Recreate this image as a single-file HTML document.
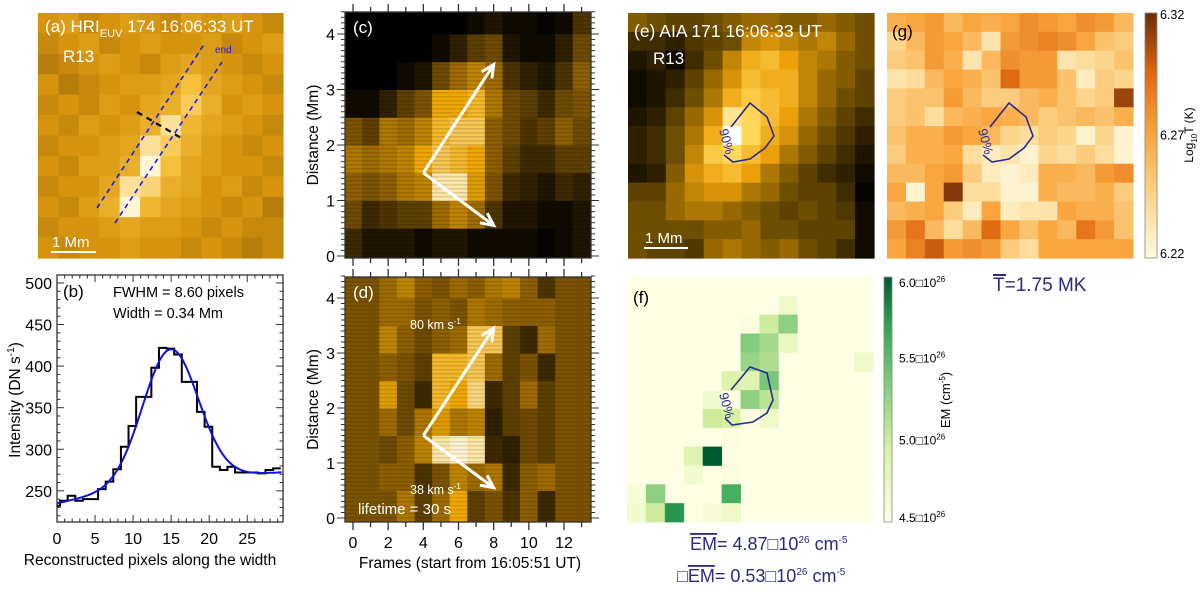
<!DOCTYPE html>
<html><head><meta charset="utf-8"><style>
body{margin:0;background:#fff}
svg{display:block;font-family:"Liberation Sans",sans-serif}
</style></head><body>
<svg id="fig" width="1200" height="591" viewBox="0 0 1200 591" xmlns="http://www.w3.org/2000/svg">
<g id="layer"></g>
</svg>
<script>
// ---------- data ----------
// (b) profile
const bPixels=[0,1,2,3,4,5,6,7,8,9,10,11,12,13,14,15,16,17,18,19,20,21,22,23,24,25,26,27,28,29];
const bIntensity=[232,238,244,238,240,240,252,261,276,303,328,363,363,398,422,421,414,381,381,345,327,279,275,279,272,272,272,271,275,277];
const bFitParams=[161,14.9,3.65]; // amplitude, centre, sigma
const bFitBaseline=[235,2.0,-0.025];
const bYTicks=[250,300,350,400,450,500];
const bXTicks=[0,5,10,15,20,25];
// (a) HRI image (12x12)
const aImg=[
[.45,.5,.4,.45,.5,.45,.4,.5,.45,.5,.45,.4],
[.4,.45,.5,.4,.45,.5,.45,.45,.5,.4,.45,.5],
[.35,.4,.45,.5,.45,.4,.5,.55,.5,.45,.4,.45],
[.45,.35,.4,.45,.5,.5,.55,.7,.55,.5,.45,.4],
[.4,.45,.4,.5,.45,.55,.6,.75,.6,.45,.5,.45],
[.45,.4,.5,.45,.5,.6,.85,.65,.55,.5,.45,.4],
[.4,.45,.45,.5,.55,.85,.75,.6,.5,.45,.4,.45],
[.45,.4,.5,.5,.6,.95,.7,.55,.5,.45,.45,.4],
[.4,.45,.45,.55,.85,.8,.6,.55,.45,.5,.4,.45],
[.45,.4,.5,.6,.95,.65,.55,.5,.45,.4,.45,.35],
[.4,.45,.45,.5,.55,.5,.5,.45,.4,.45,.4,.4],
[.45,.4,.45,.45,.5,.45,.45,.4,.45,.4,.35,.4]];
// (c) time-distance: per frame, distance bins 0..4.4 in 0.5 Mm
const cFrames=[0,1,2,3,4,5,6,7,8,9,10,11,12,13];
const cTD=[
[.2,.35,.45,.55,.4,.05,0,0,0],[.1,.2,.4,.5,.3,.05,0,0,0],[.1,.25,.45,.55,.55,.15,0,0,0],
[.1,.3,.55,.6,.5,.3,.05,0,0],[.05,.3,.6,.75,.6,.4,.1,0,0],[.1,.5,.95,.85,.8,.75,.35,.05,0],
[.1,.6,.95,.8,.85,.75,.5,.15,0],[.05,.5,.7,.75,.85,.8,.6,.3,.05],[.05,.25,.4,.45,.45,.55,.5,.35,.1],
[.05,.1,.2,.3,.35,.35,.25,.1,.05],[.05,.1,.15,.2,.25,.3,.15,.05,.05],[.02,.05,.1,.2,.3,.2,.1,.05,.02],
[.05,.05,.2,.3,.45,.35,.25,.15,.05],[.1,.1,.15,.3,.35,.4,.45,.35,.25]];
const dTD=[
[.4,.4,.4,.4,.4,.4,.4,.4,.4],[.4,.4,.4,.4,.4,.4,.4,.4,.4],
[.4,.45,.35,.5,.7,.45,.6,.5,.5],[.55,.45,.45,.35,.35,.4,.45,.5,.6],[.3,.25,.6,.55,.2,.3,.35,.4,.45],
[.5,.4,.95,.7,.8,.8,.45,.45,.4],[.75,.6,1,.55,.75,.8,.5,.4,.5],[.3,.5,.95,.6,.9,.85,.85,.55,.45],
[.4,.55,.2,.15,.2,.5,.85,.5,.55],[.25,.2,.15,.3,.3,.3,.3,.45,.6],[.45,.45,.35,.35,.5,.4,.2,.45,.45],
[.2,.5,.3,.3,.3,.2,.5,.45,.25],[.4,.4,.4,.4,.4,.4,.4,.4,.4],[.4,.4,.4,.4,.4,.4,.4,.4,.4]];
const tdYTicks=[0,1,2,3,4];
const tdXTicks=[0,2,4,6,8,10,12];
const arrowStart=[4,1.5];
const arrowEnds=[[8,3.45],[8,0.55]];
// (e) AIA 171
const eImg=[
[.4,.35,.3,.3,.35,.4,.45,.45,.4,.4,.45,.4,.35],[.2,.2,.15,.25,.3,.35,.55,.6,.55,.5,.55,.45,.35],
[.1,.15,.05,.2,.35,.55,.7,.75,.65,.55,.5,.4,.35],[.05,.1,.15,.3,.45,.6,.75,.7,.7,.55,.45,.4,.3],
[.05,.1,.2,.35,.5,.7,.8,.75,.7,.55,.45,.35,.3],[.1,.15,.3,.45,.6,.9,.85,.75,.65,.5,.4,.3,.2],
[.15,.2,.35,.5,.7,1,.85,.7,.6,.45,.35,.25,.15],[.15,.2,.35,.55,.8,.85,.75,.65,.5,.4,.3,.2,.1],
[.1,.15,.4,.6,.7,.75,.65,.5,.4,.3,.2,.15,.05],[.3,.3,.45,.55,.6,.6,.5,.45,.35,.3,.3,.2,.02],
[.35,.35,.45,.5,.5,.45,.4,.35,.3,.35,.3,.25,.05],[.35,.35,.35,.35,.4,.4,.45,.35,.35,.3,.3,.3,.05],
[.35,.3,.3,.25,.45,.5,.45,.4,.45,.35,.3,.2,.05]];
// (g) log T (normalized 6.22..6.32)
const gImg=[
[.45,.5,.55,.4,.5,.45,.5,.6,.55,.5,.6,.55,.4],[.25,.4,.55,.5,.4,.15,.55,.6,.65,.6,.5,.35,.3],
[.3,.35,.55,.45,.15,.4,.6,.55,.55,.15,.2,.25,.35],[.15,.2,.4,.5,.45,.35,.75,.55,.55,.35,.1,.3,.25],
[.3,.35,.35,.55,.4,.3,.3,.4,.45,.35,.25,.3,.9],[.3,.35,.2,.4,.45,.5,.45,.4,.3,.35,.4,.35,.45],
[.35,.45,.45,.55,.5,.4,.25,.2,.3,.25,.05,.25,.05],[.3,.45,.45,.5,.2,.1,.15,.05,.25,.2,.3,.2,.05],
[.4,.4,.5,.55,.3,.1,.05,.1,.45,.45,.4,.55,.6],[.5,.05,.5,.95,.2,.2,.05,.05,.45,.4,.4,.45,.3],
[.4,.45,.5,.3,.1,.5,.1,.15,.15,.5,.45,.45,.35],[.55,.7,.4,.2,.4,.75,.5,.35,.5,.4,.7,.55,.35],
[.5,.65,.8,.55,.6,.55,.3,.2,.5,.5,.5,.5,.5]];
// (f) EM in 1e26 (background 4.5)
const fCells=[[1,8,4.7],[2,6,4.55],[2,7,5.0],[2,8,5.3],[3,6,5.35],[3,7,5.2],[3,8,4.75],[4,6,5.25],[4,7,5.15],[4,12,4.7],
[5,5,4.9],[5,6,4.85],[5,7,5.4],[6,4,4.65],[6,6,5.3],[6,7,5.1],[7,4,5.0],[7,5,4.95],[7,6,4.55],[7,7,4.7],[8,5,4.55],
[9,3,4.85],[9,4,6.0],[10,3,4.65],[10,5,4.55],[11,0,4.6],[11,1,5.3],[11,5,5.6],[12,0,4.65],[12,1,5.0],[12,2,5.75],[12,4,4.6],[12,5,4.7]];
const fTicks=[4.5,5.0,5.5,6.0];
const gTicks=["6.22","6.27","6.32"];

// ---------- helpers ----------
const NS="http://www.w3.org/2000/svg";
const L=document.getElementById('layer');
function mk(tag,attrs,parent){const e=document.createElementNS(NS,tag);for(const k in attrs)e.setAttribute(k,attrs[k]);(parent||L).appendChild(e);return e;}
function cmap(stops,v){v=Math.max(0,Math.min(1,v));for(let i=1;i<stops.length;i++){if(v<=stops[i][0]){const a=stops[i-1],b=stops[i];const t=(v-a[0])/(b[0]-a[0]||1);const c=[0,1,2].map(j=>Math.round(a[1][j]+(b[1][j]-a[1][j])*t));return`rgb(${c})`;}}const l=stops[stops.length-1][1];return`rgb(${l})`;}
const hriStops=[[0,[70,45,0]],[.45,[214,148,14]],[.7,[246,192,60]],[1,[255,255,245]]];
const aiaStops=[[0,[0,0,0]],[.35,[110,78,0]],[.65,[235,160,10]],[.85,[255,215,90]],[1,[255,255,255]]];
const tdStops=[[0,[0,0,0]],[.45,[140,95,0]],[.75,[240,168,0]],[1,[255,245,210]]];
const tStops=[[0,[255,250,225]],[.25,[252,214,140]],[.5,[249,166,64]],[.75,[224,106,18]],[1,[107,44,7]]];
const emStops=[[0,[255,255,229]],[.3,[217,240,163]],[.6,[120,198,121]],[.8,[49,163,84]],[1,[0,90,50]]];
function imageGrid(data,x0,y0,w,h,stops,name){const g=mk('g',{});
 const R=data.length,C=data[0].length,cw=w/C,ch=h/R;
 data.forEach((row,r)=>row.forEach((v,c)=>{const e=mk('rect',{x:x0+c*cw,y:y0+r*ch,width:cw+0.6,height:ch+0.6,fill:cmap(stops,v)},g);}));return g;}
function txt(x,y,s,attrs,name){const e=mk('text',Object.assign({x:x,y:y},attrs||{}));e.innerHTML=s;return e;}
function contour(pts,label,name){const p=mk('polyline',{points:pts.map(q=>q.join(',')).join(' '),fill:'none',stroke:'#2a2a90','stroke-width':1.6});
 const t=txt(label[0],label[1],'90%',{fill:'#2a2a90','font-size':13,transform:`rotate(75 ${label[0]} ${label[1]})`},name+'-label');}
function box(x,y,w,h,name){const e=mk('rect',{x:x,y:y,width:w,height:h,fill:'none',stroke:'#333','stroke-width':1.3});}

// ---------- (a) ----------
imageGrid(aImg,38,13,245,245,hriStops,'panel-a-image');
[[[97,208],[205,43]],[[115,223],[222,62]]].forEach((l,i)=>{const e=mk('line',{x1:l[0][0],y1:l[0][1],x2:l[1][0],y2:l[1][1],stroke:'#1a1aff','stroke-width':1.6,'stroke-dasharray':'5,4'});});
{const e=mk('line',{x1:137,y1:112,x2:183,y2:139,stroke:'#000','stroke-width':2.2,'stroke-dasharray':'6,5'});}
txt(45,32,'(a) HRI<tspan font-size="11" dy="5">EUV</tspan><tspan dy="-5"> 174  16:06:33 UT</tspan>',{fill:'#fff','font-size':17},'panel-a-title');
txt(63,62,'R13',{fill:'#fff','font-size':17},'panel-a-region');
txt(215,53,'end',{fill:'#1a1aff','font-size':10},'slit-end-label');
{const e=mk('line',{x1:51,y1:252,x2:96,y2:252,stroke:'#fff','stroke-width':2});}
txt(52,247,'1 Mm',{fill:'#fff','font-size':15},'scale-bar-label');

// ---------- (b) ----------
const bx0=57,bx1=283,by0=275,by1=522,bxmin=0,bxmax=29.7,bymin=212.5,bymax=509.6;
const bX=v=>bx0+(v-bxmin)/(bxmax-bxmin)*(bx1-bx0), bY=v=>by1-(v-bymin)/(bymax-bymin)*(by1-by0);
box(bx0,by0,bx1-bx0,by1-by0,'panel-b-frame');
for(let v=220;v<=500;v+=10){const M=v%50===0,l=M?7:3.5;[[bx0,bx0+l],[bx1,bx1-l]].forEach(s=>{const e=mk('line',{x1:s[0],x2:s[1],y1:bY(v),y2:bY(v),stroke:'#333'});});}
for(let v=0;v<=29;v++){const M=v%5===0,l=M?7:3.5;[[by1,by1-l],[by0,by0+l]].forEach(s=>{const e=mk('line',{x1:bX(v),x2:bX(v),y1:s[0],y2:s[1],stroke:'#333'});});}
bYTicks.forEach(v=>txt(bx0-5,bY(v)+6,v,{'font-size':16,'text-anchor':'end'},'b-y-tick-label'));
bXTicks.forEach(v=>txt(bX(v),544,v,{'font-size':16,'text-anchor':'middle'},'b-x-tick-label'));
txt(150,565,'Reconstructed pixels along the width',{'font-size':15.5,'text-anchor':'middle'},'b-x-axis-title');
txt(0,0,'Intensity (DN s<tspan font-size="10" dy="-6">-1</tspan><tspan dy="6">)</tspan>',{'font-size':15.5,'text-anchor':'middle',transform:'translate(20,400) rotate(-90)'},'b-y-axis-title');
{let d='';bPixels.forEach((p,i)=>{const xa=bX(Math.max(0,p-0.6)),xb=bX(Math.min(bxmax,p+0.4)),y=bY(bIntensity[i]);d+=(i?'L':'M')+xa+','+y+'L'+xb+','+y;});
 const e=mk('path',{d:d,fill:'none',stroke:'#000','stroke-width':2});}
{let d='';for(let x=0;x<=bxmax;x+=0.25){const base=bFitBaseline[0]+bFitBaseline[1]*x+bFitBaseline[2]*x*x;const v=base+bFitParams[0]*Math.exp(-Math.pow(x-bFitParams[1],2)/(2*bFitParams[2]*bFitParams[2]));d+=(x?'L':'M')+bX(x).toFixed(1)+','+bY(v).toFixed(1);}
 const e=mk('path',{d:d,fill:'none',stroke:'#1010e0','stroke-width':2});}
txt(63,297,'(b)',{'font-size':17},'panel-b-label');
txt(113,297,'FWHM =  8.60 pixels',{'font-size':14.5},'fwhm-text');
txt(113,318,'Width = 0.34 Mm',{'font-size':14.5},'width-text');

// ---------- (c),(d) ----------
function tdPanel(data,top,bottom,zeroY,pxPerMm,name,arrows){
 const x0=345,x1=591,fX=f=>353+(f)*(564-353)/12,dY=d=>zeroY-d*pxPerMm;
 const g=mk('g',{});
 const clip=mk('clipPath',{id:'clip-'+name});mk('rect',{x:x0,y:top,width:x1-x0,height:bottom-top},clip);g.setAttribute('clip-path','url(#clip-'+name+')');
 data.forEach((col,fi)=>{const f=cFrames[fi];col.forEach((v,bi)=>{const ya=dY(bi*0.5+0.5),yb=dY(bi*0.5);const e=mk('rect',{x:fX(f-0.5),y:(bi===col.length-1?top:ya),width:fX(f+0.5)-fX(f-0.5)+0.5,height:yb-(bi===col.length-1?top:ya)+(bi===0?(bottom-yb):0.5),fill:cmap(tdStops,v)},g);});});
 for(let y=top;y<bottom;y+=4){const e=mk('rect',{x:x0,y:y,width:x1-x0,height:1.5,fill:'#000',opacity:0.12},g);}
 box(x0,top,x1-x0,bottom-top,name+'-frame');
 for(let d=0;d<=4.4;d+=0.1){const M=Math.abs(d-Math.round(d))<0.01,l=M?8:4;[[x0,x0-l],[x1,x1+l]].forEach(s=>{const e=mk('line',{x1:s[0],x2:s[1],y1:dY(d),y2:dY(d),stroke:'#333'});});}
 for(let f=0;f<=13;f++){const l=f%2===0?8:5;[[bottom,bottom+l],[top,top-l]].forEach(s=>{const e=mk('line',{x1:fX(f),x2:fX(f),y1:s[0],y2:s[1],stroke:'#333','stroke-width':1.3});});}
 tdYTicks.forEach(v=>txt(x0-10,dY(v)+6,v,{'font-size':16,'text-anchor':'end'},'td-y-tick-label'));
 txt(0,0,'Distance (Mm)',{'font-size':15.5,'text-anchor':'middle',transform:`translate(318,${(top+bottom)/2}) rotate(-90)`},'td-y-axis-title');
 arrowEnds.forEach((en,i)=>{const xa=fX(arrowStart[0]),ya=dY(arrowStart[1]),xb=fX(en[0]),yb=dY(en[1]);const e=mk('line',{x1:xa,y1:ya,x2:xb,y2:yb,stroke:'#fff','stroke-width':3});
  const ang=Math.atan2(yb-ya,xb-xa),h=14;const p=mk('polyline',{points:`${xb-h*Math.cos(ang-0.45)},${yb-h*Math.sin(ang-0.45)} ${xb},${yb} ${xb-h*Math.cos(ang+0.45)},${yb-h*Math.sin(ang+0.45)}`,fill:'none',stroke:'#fff','stroke-width':3});});
 return fX;}
tdPanel(cTD,12,258,256,55.5,'panel-c',true);
txt(353,33,'(c)',{fill:'#fff','font-size':17},'panel-c-label');
const fXd=tdPanel(dTD,277,522,518,55,'panel-d',true);
txt(353,298,'(d)',{fill:'#fff','font-size':17},'panel-d-label');
tdXTicks.forEach(v=>txt(fXd(v),548,v,{'font-size':16,'text-anchor':'middle'},'td-x-tick-label'));
txt(470,568,'Frames (start from 16:05:51 UT)',{'font-size':15.5,'text-anchor':'middle'},'td-x-axis-title');
txt(410,329,'80 km s<tspan font-size="8" dy="-5">-1</tspan>',{fill:'#fff','font-size':12.5},'speed-80-label');
txt(410,494,'38 km s<tspan font-size="8" dy="-5">-1</tspan>',{fill:'#fff','font-size':12.5},'speed-38-label');
txt(358,514,'lifetime =  30 s',{fill:'#fff','font-size':15},'lifetime-label');

// ---------- (e) ----------
imageGrid(eImg,628,13,246,245,aiaStops,'panel-e-image');
txt(634,37,'(e) AIA 171  16:06:33 UT',{fill:'#fff','font-size':17.5},'panel-e-title');
txt(653,64,'R13',{fill:'#fff','font-size':17},'panel-e-region');
{const e=mk('line',{x1:644,y1:248,x2:688,y2:248,stroke:'#fff','stroke-width':2});}
txt(645,243,'1 Mm',{fill:'#fff','font-size':15},'e-scale-bar-label');
const cont=[[731,127],[750,103],[767,117],[774,136],[765,148],[750,159],[733,162],[724,155]];
contour(cont,[719,130],'e-contour');

// ---------- (g) ----------
imageGrid(gImg,887,13,246,245,tStops,'panel-g-image');
txt(892,37,'(g)',{'font-size':17},'panel-g-label');
contour(cont.map(p=>[p[0]+259,p[1]]),[978,130],'g-contour');
{const defs=mk('defs',{});const lg=mk('linearGradient',{id:'gT',x1:0,y1:1,x2:0,y2:0},defs);tStops.forEach(s=>mk('stop',{offset:s[0],'stop-color':`rgb(${s[1]})`},lg));
 const e=mk('rect',{x:1145,y:13,width:12,height:245,fill:'url(#gT)',stroke:'#888','stroke-width':.8});
 const lgE=mk('linearGradient',{id:'gE',x1:0,y1:1,x2:0,y2:0},defs);emStops.forEach(s=>mk('stop',{offset:s[0],'stop-color':`rgb(${s[1]})`},lgE));}
gTicks.forEach((t,i)=>txt(1160,258-i*122.5+(i===0?0:(i===2?6:4)),t,{'font-size':12.5},'t-colorbar-tick'));
txt(0,0,'Log<tspan font-size="8" dy="4">10</tspan><tspan dy="-4">T (K)</tspan>',{'font-size':12,'text-anchor':'middle',transform:'translate(1193,135) rotate(-90)'},'t-colorbar-title');
txt(993,291,'<tspan text-decoration="overline">T</tspan>=1.75 MK',{fill:'#2a2a80','font-size':19},'mean-temperature');
{const e=mk('line',{x1:994,y1:275,x2:1006,y2:275,stroke:'#2a2a80','stroke-width':2});}

// ---------- (f) ----------
{const fx0=627,fy0=277,cw=246/13,ch=245/13;
 const bg=mk('rect',{x:fx0,y:fy0,width:246,height:245,fill:cmap(emStops,0)});
 fCells.forEach(c=>{const e=mk('rect',{x:fx0+c[1]*cw,y:fy0+c[0]*ch,width:cw+.4,height:ch+.4,fill:cmap(emStops,(c[2]-4.5)/1.5)});});}
txt(633,303,'(f)',{'font-size':17},'panel-f-label');
contour([[731,390],[750,367],[767,373],[773,400],[767,413],[753,422],[732,425],[725,418]],[719,394],'f-contour');
{const e=mk('rect',{x:884,y:277,width:8,height:245,fill:'url(#gE)',stroke:'#888','stroke-width':.8});}
fTicks.forEach(v=>txt(899,522-(v-4.5)/1.5*245+(v===6?10:(v===4.5?0:4)),v.toFixed(1)+'□10<tspan font-size="8" dy="-5">26</tspan>',{'font-size':12},'em-colorbar-tick'));
txt(0,0,'EM (cm<tspan font-size="8" dy="-5">-5</tspan><tspan dy="5">)</tspan>',{'font-size':13,'text-anchor':'middle',transform:'translate(950,400) rotate(-90)'},'em-colorbar-title');
txt(690,550,'<tspan text-decoration="overline">EM</tspan>= 4.87□10<tspan font-size="10" dy="-7">26</tspan><tspan dy="7"> cm</tspan><tspan font-size="10" dy="-7">-5</tspan>',{fill:'#2a2a80','font-size':18},'mean-em');
txt(677,582,'□<tspan text-decoration="overline">EM</tspan>= 0.53□10<tspan font-size="10" dy="-7">26</tspan><tspan dy="7"> cm</tspan><tspan font-size="10" dy="-7">-5</tspan>',{fill:'#2a2a80','font-size':18},'sigma-em');
</script>
</body></html>
